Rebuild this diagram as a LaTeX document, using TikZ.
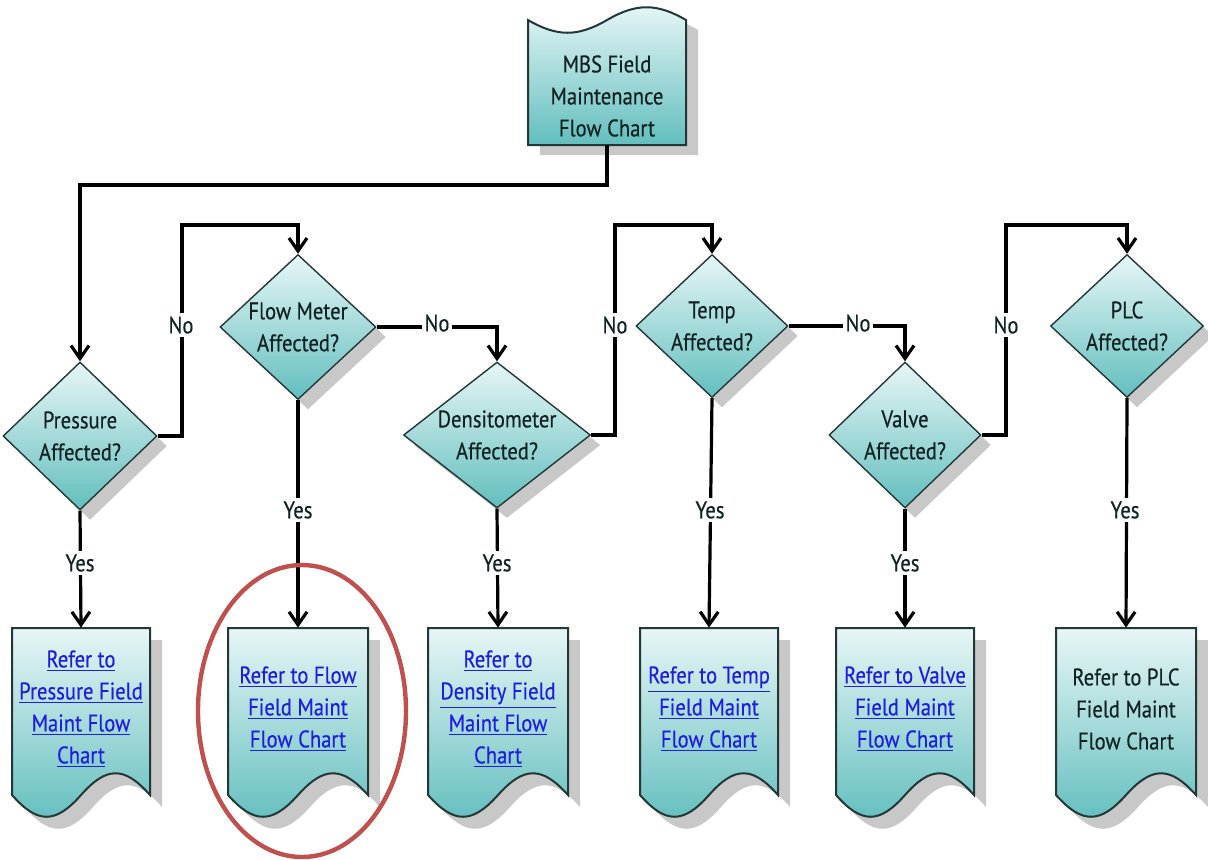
\documentclass[tikz,border=0pt]{standalone}
\usepackage{fontspec}
\setmainfont{PT Sans}[FakeStretch=0.86,FakeBold=0.35]
\usetikzlibrary{shapes.geometric,shadows,arrows.meta,calc}
\definecolor{tlight}{RGB}{232,246,246}
\definecolor{tdark}{RGB}{98,190,190}
\definecolor{edge}{RGB}{35,55,55}
\definecolor{txt}{RGB}{18,34,34}
\definecolor{lnk}{RGB}{30,30,225}
\definecolor{shad}{RGB}{200,200,200}
\definecolor{circc}{RGB}{192,80,77}
\newcommand\docpathb[5]{(#1,#3) -- (#2,#3) -- (#2,#4) .. controls ({#2-0.185*(#2-#1)},{#4-#5}) and ({#2-0.315*(#2-#1)},{#4-#5}) .. ({(#1+#2)/2},#4) .. controls ({#1+0.315*(#2-#1)},{#4+#5}) and ({#1+0.185*(#2-#1)},{#4+#5}) .. (#1,#4) -- cycle}
\newcommand\docpatht[5]{(#1,#4) -- (#2,#4) -- (#2,#3) .. controls ({#2-0.185*(#2-#1)},{#3-#5}) and ({#2-0.315*(#2-#1)},{#3-#5}) .. ({(#1+#2)/2},#3) .. controls ({#1+0.315*(#2-#1)},{#3+#5}) and ({#1+0.185*(#2-#1)},{#3+#5}) .. (#1,#3) -- cycle}
\newcommand\botdoc[4]{%
  \fill[shad, xshift=6pt, yshift=-6pt] \docpathb{#2}{#3}{628}{795}{29};
  \path[docshape] \docpathb{#2}{#3}{628}{795}{29};
  \node[dtext, minimum width={0.5pt*(#3-#2)}, minimum height=81pt] (#1) at ({(#2+#3)/2},709) {#4};
}
\newcommand\lk[1]{\textcolor{lnk}{\underline{#1}}}
\begin{document}
\begin{tikzpicture}[x=0.5pt,y=-0.5pt,
  dec/.style={diamond, draw=edge, line width=0.7pt, top color=tlight, bottom color=tdark, inner sep=0pt,
    drop shadow={shadow xshift=5pt,shadow yshift=-5pt,fill=shad,opacity=1}},
  dtext/.style={align=center, font=\fontsize{12}{16}\selectfont, text=txt, inner sep=0pt},
  docshape/.style={draw=edge, line width=1pt, top color=tlight, bottom color=tdark},
  conn/.style={line width=1.6pt, -{Straight Barb[length=6.5pt,width=9pt,line width=1.6pt]}},
  lab/.style={fill=white, inner sep=1.5pt, font=\fontsize{12}{14}\selectfont, text=txt}]
\useasboundingbox (0,0) rectangle (1208,859);

% top document
\fill[shad, xshift=6pt, yshift=-5pt] \docpatht{528}{686}{20}{145}{17};
\path[docshape] \docpatht{528}{686}{20}{145}{17};
\node[dtext, minimum width=79pt, minimum height=49pt] (top) at (607,96) {MBS Field\\Maintenance\\Flow Chart};

% decisions
\node[dec, minimum width=77pt, minimum height=74pt, label={[dtext]center:Pressure\\Affected?}] (p) at (80,436) {};
\node[dec, minimum width=78pt, minimum height=72.5pt, label={[dtext]center:Flow Meter\\Affected?}] (f) at (298,327) {};
\node[dec, minimum width=93.5pt, minimum height=73pt, label={[dtext]center:Densitometer\\Affected?}] (d) at (497,435) {};
\node[dec, minimum width=76pt, minimum height=71.5pt, label={[dtext]center:Temp\\Affected?}] (t) at (712,326) {};
\node[dec, minimum width=76pt, minimum height=73pt, label={[dtext]center:Valve\\Affected?}] (v) at (905,435) {};
\node[dec, minimum width=76.5pt, minimum height=71.5pt, label={[dtext]center:PLC\\Affected?}] (plc) at (1127,326) {};

% result documents
\botdoc{rp}{12}{150}{\lk{Refer to}\\\lk{Pressure Field}\\\lk{Maint Flow}\\\lk{Chart}}
\botdoc{rf}{228}{368}{\lk{Refer to Flow}\\\lk{Field Maint}\\\lk{Flow Chart}}
\botdoc{rd}{428}{568}{\lk{Refer to}\\\lk{Density Field}\\\lk{Maint Flow}\\\lk{Chart}}
\botdoc{rt}{640}{778}{\lk{Refer to Temp}\\\lk{Field Maint}\\\lk{Flow Chart}}
\botdoc{rv}{836}{974}{\lk{Refer to Valve}\\\lk{Field Maint}\\\lk{Flow Chart}}
\botdoc{rc}{1056}{1196}{Refer to PLC\\Field Maint\\Flow Chart}

% waypoints
\coordinate (w0) at (607,185);
\coordinate (w1) at (182,225);
\coordinate (w2) at (615,225);
\coordinate (w3) at (1006,225);

% connectors
\draw[conn] (top.south) -- (w0) -| (p.north);
\draw[conn] (p.east) -| (w1) -| (f.north);
\draw[conn] (f.east) -| (d.north);
\draw[conn] (d.east) -| (w2) -| (t.north);
\draw[conn] (t.east) -| (v.north);
\draw[conn] (v.east) -| (w3) -| (plc.north);
\draw[conn] (p.south) -- (rp.north);
\draw[conn] (f.south) -- (rf.north);
\draw[conn] (d.south) -- (rd.north);
\draw[conn] (t.south) -- (rt.north);
\draw[conn] (v.south) -- (rv.north);
\draw[conn] (plc.south) -- (rc.north);

% labels
\node[lab] (n1) at (181,325) {No};
\node[lab] (n2) at (437,323) {No};
\node[lab] (n3) at (615,325) {No};
\node[lab] (n4) at (858,323) {No};
\node[lab] (n5) at (1006,325) {No};
\node[lab] (y1) at (80,563) {Yes};
\node[lab] (y2) at (298,510) {Yes};
\node[lab] (y3) at (497,563) {Yes};
\node[lab] (y4) at (710,510) {Yes};
\node[lab] (y5) at (905,563) {Yes};
\node[lab] (y6) at (1125,510) {Yes};

% highlight ellipse
\node[ellipse, draw=circc, line width=2.2pt, minimum width=104pt, minimum height=146pt] (hl) at (302,711) {};
\end{tikzpicture}
\end{document}
